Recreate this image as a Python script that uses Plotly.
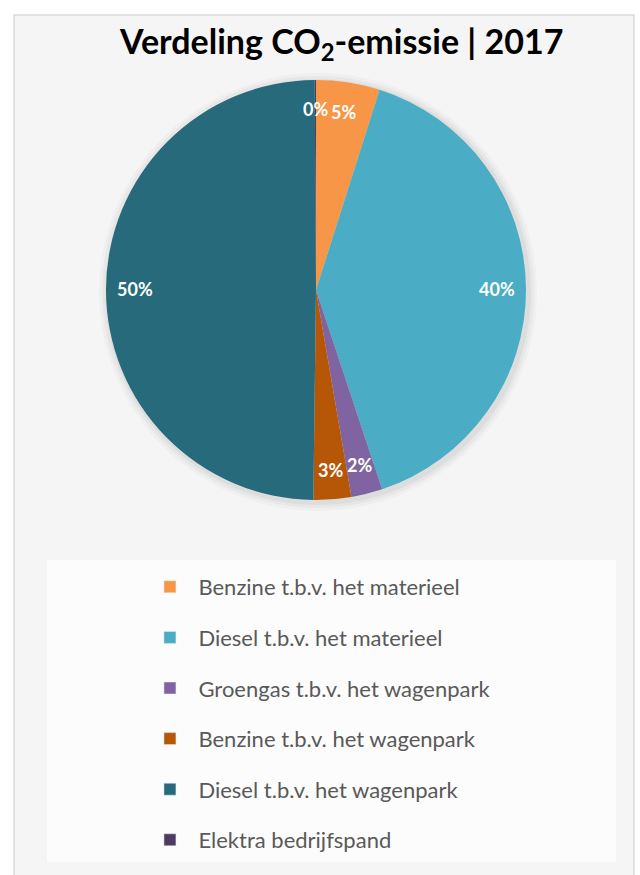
import math
import plotly.graph_objects as go

categories = [
    "Benzine t.b.v. het materieel",
    "Diesel t.b.v. het materieel",
    "Groengas t.b.v. het wagenpark",
    "Benzine t.b.v. het wagenpark",
    "Diesel t.b.v. het wagenpark",
    "Elektra bedrijfspand",
]
values = [4.9, 40.0, 2.4, 2.9, 49.7, 0.1]
colors = ["#F79646", "#4BACC6", "#8064A2", "#B65708", "#276A7C", "#4D3B62"]
title_text = "<b>Verdeling CO<sub>2</sub>-emissie | 2017</b>"

W, H = 640, 875
dom_x = [106 / W, 526 / W]
dom_y = [1 - 500 / H, 1 - 80 / H]

fig = go.Figure()

# soft shadow behind the pie
for g, a in [(9, 0.025), (6, 0.03), (3, 0.04)]:
    fig.add_trace(go.Pie(
        values=[1], labels=["shadow"], sort=False, textinfo="none",
        marker=dict(colors=[f"rgba(0,0,0,{a})"], line=dict(width=0)),
        showlegend=False, hoverinfo="skip",
        domain=dict(x=[dom_x[0] - (g - 2) / W, dom_x[1] + (g + 2) / W],
                    y=[dom_y[0] - (g + 2) / H, dom_y[1] + (g - 2) / H]),
    ))

fig.add_trace(go.Pie(
    labels=categories, values=values, sort=False, direction="clockwise",
    rotation=0, marker=dict(colors=colors, line=dict(width=0)),
    textinfo="none", showlegend=False, domain=dict(x=dom_x, y=dom_y),
    hoverinfo="label+percent",
))

# percentage labels placed near the rim, positioned from the slice angles
total = sum(values)
cx = (dom_x[0] + dom_x[1]) / 2
cy = (dom_y[0] + dom_y[1]) / 2
r_px = min((dom_x[1] - dom_x[0]) * W, (dom_y[1] - dom_y[0]) * H) / 2
k = 0.86
annotations = []
cum = 0.0
for v in values:
    mid = (cum + v / 2) / total
    cum += v
    th = 2 * math.pi * mid
    annotations.append(dict(
        text=f"<b>{round(100 * v / total):d}%</b>",
        x=cx + k * r_px * math.sin(th) / W,
        y=cy + k * r_px * math.cos(th) / H,
        xref="paper", yref="paper", xanchor="center", yanchor="middle",
        showarrow=False, font=dict(family="Lato", size=18, color="white"),
    ))

annotations.append(dict(
    text=title_text, x=341 / W, y=1 - 43 / H, xref="paper", yref="paper",
    xanchor="center", yanchor="middle", showarrow=False,
    font=dict(family="Lato", size=34, color="black"),
))

for i, (c, col) in enumerate(zip(categories, colors)):
    fig.add_trace(go.Bar(x=[None], y=[None], name=c, marker_color=col,
                         legendgroup=f"g{i}", showlegend=True))

fig.update_layout(
    width=W, height=H,
    margin=dict(l=0, r=0, t=0, b=0),
    paper_bgcolor="white", plot_bgcolor="rgba(0,0,0,0)",
    xaxis=dict(visible=False), yaxis=dict(visible=False),
    font=dict(family="Lato"),
    legend=dict(
        x=0.221, y=1 - 566 / H, xanchor="left", yanchor="top",
        font=dict(family="Lato", size=22, color="#595959"),
        bgcolor="rgba(0,0,0,0)", tracegroupgap=19, itemwidth=47,
    ),
    shapes=[
        dict(type="rect", xref="paper", yref="paper",
             x0=14 / W, x1=634 / W, y0=-0.02, y1=1 - 15 / H,
             line=dict(color="#d9d9d9", width=1.5), fillcolor="#f5f5f5",
             layer="below"),
        dict(type="rect", xref="paper", yref="paper",
             x0=47 / W, x1=616 / W, y0=1 - 862 / H, y1=1 - 560 / H,
             line=dict(width=0), fillcolor="#fcfcfc", layer="below"),
    ],
    annotations=annotations,
)

fig.write_html("out.html", config={"displayModeBar": False},
               post_script="document.body.style.margin='0';")
